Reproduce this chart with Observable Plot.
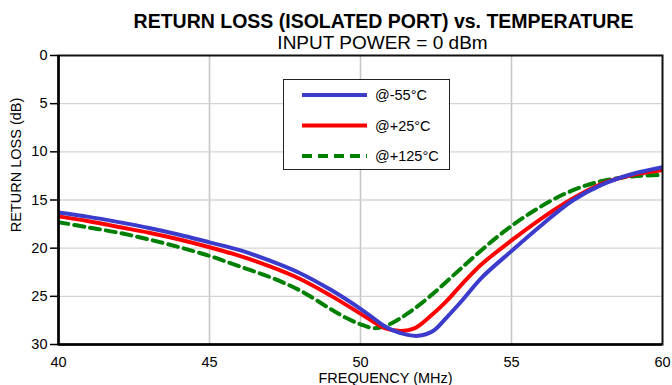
<!DOCTYPE html>
<html><head><meta charset="utf-8">
<script src="https://cdn.jsdelivr.net/npm/d3@7"></script>
<script src="https://cdn.jsdelivr.net/npm/@observablehq/plot@0.6"></script>
<style>
body{margin:0;background:#fff;font-family:"Liberation Sans",Arial,sans-serif;}
#wrap{position:relative;width:672px;height:385px;}
#legend{position:absolute;left:283px;top:79px;width:167px;height:91px;border:1px solid #222;background:#fff;box-sizing:border-box;}
</style></head>
<body><div id="wrap"><div id="chart"></div><div id="legend"></div></div>
<script>
const title = "RETURN LOSS (ISOLATED PORT) vs. TEMPERATURE";
const subtitle = "INPUT POWER = 0 dBm";
const xLabel = "FREQUENCY (MHz)";
const yLabel = "RETURN LOSS (dB)";
const xTicks = [40, 45, 50, 55, 60];
const yTicks = [0, 5, 10, 15, 20, 25, 30];
const seriesNames = ["@-55°C", "@+25°C", "@+125°C"];
const seriesColors = ["#3b3bcc", "#ff0000", "#008000"];

const freqM55 = [40, 41, 42, 43, 44, 45, 46, 47, 48, 49, 50, 50.4, 50.8, 51.3, 51.9, 52.4, 52.85, 53.4, 54, 55, 56, 57, 58, 59, 60];
const rlM55   = [16.3, 16.75, 17.3, 17.9, 18.6, 19.4, 20.2, 21.3, 22.6, 24.3, 26.3, 27.2, 28.1, 28.8, 29.1, 28.6, 27.2, 25.3, 23.1, 20.3, 17.6, 15.1, 13.4, 12.3, 11.6];
const freqP25 = [40, 41, 42, 43, 44, 45, 46, 47, 48, 49, 50, 50.4, 50.8, 51.36, 51.8, 52.3, 52.85, 53.4, 54, 55, 56, 57, 58, 59, 60];
const rlP25   = [16.7, 17.2, 17.8, 18.4, 19.1, 19.9, 20.8, 21.9, 23.2, 24.9, 26.8, 27.6, 28.3, 28.6, 28.3, 27.1, 25.5, 23.6, 21.7, 19.2, 16.9, 14.9, 13.3, 12.4, 11.9];
const freqP125 = [40, 41, 42, 43, 44, 45, 46, 47, 48, 49, 49.5, 50, 50.42, 50.8, 51.2, 51.6, 52.3, 53.4, 54.5, 55.6, 56.8, 57.9, 59, 60];
const rlP125   = [17.3, 17.85, 18.4, 19.1, 19.9, 20.8, 21.9, 23.0, 24.4, 26.3, 27.2, 27.9, 28.3, 28.1, 27.5, 26.7, 25.0, 21.9, 18.9, 16.4, 14.3, 13.1, 12.55, 12.4];

const toRows = (fs, vs) => fs.map((f, i) => ({f, v: vs[i]}));
const dM55 = toRows(freqM55, rlM55), dP25 = toRows(freqP25, rlP25), dP125 = toRows(freqP125, rlP125);
const font = "Liberation Sans, Arial, sans-serif";

const chart = Plot.plot({
  width: 672, height: 385,
  marginLeft: 58, marginRight: 10, marginTop: 55, marginBottom: 41,
  style: {fontFamily: font, fontSize: "14.5px", color: "#000", background: "#fff", overflow: "visible"},
  x: {domain: [40, 60]},
  y: {domain: [0, 30], reverse: true},
  marks: [
    Plot.gridX([45, 50, 55], {stroke: "#c6c6c6", strokeOpacity: 1, strokeWidth: 1.6}),
    Plot.gridY([5, 10, 15, 20, 25], {stroke: "#d4d4d4", strokeOpacity: 1, strokeWidth: 1.3}),
    Plot.line(dP125, {x: "f", y: "v", stroke: seriesColors[2], strokeWidth: 4, strokeDasharray: "10,6", curve: "catmull-rom", clip: true}),
    Plot.line(dP25, {x: "f", y: "v", stroke: seriesColors[1], strokeWidth: 4, curve: "catmull-rom", clip: true}),
    Plot.line(dM55, {x: "f", y: "v", stroke: seriesColors[0], strokeWidth: 4, curve: "catmull-rom", clip: true}),
    Plot.frame({stroke: "#111", strokeWidth: 2}),
    Plot.axisY(yTicks, {tickSize: 8, tickPadding: 3, label: null, fontSize: 14.5, strokeWidth: 1.5}),
    Plot.axisX(xTicks, {tickSize: 0, tickPadding: 12, label: null, fontSize: 14.5}),
    Plot.ruleX([40], {strokeWidth: 2.5, stroke: "#000"}),
    Plot.ruleY([30], {strokeWidth: 2.5, stroke: "#000"}),
    Plot.text([title], {frameAnchor: "top", lineAnchor: "bottom", dx: 23, dy: -28, fontSize: 19.5, fontWeight: "bold"}),
    Plot.text([subtitle], {frameAnchor: "top", lineAnchor: "bottom", dx: 22, dy: -7, fontSize: 19}),
    Plot.text([xLabel], {frameAnchor: "bottom", lineAnchor: "bottom", dx: 25, dy: 38, fontSize: 14.5}),
    Plot.text([yLabel], {frameAnchor: "left", textAnchor: "middle", lineAnchor: "middle", rotate: -90, dx: -42, dy: -35, fontSize: 14.5})
  ]
});
document.getElementById("chart").appendChild(chart);

// legend
const lg = d3.select("#legend").append("svg").attr("width", 165).attr("height", 89);
seriesNames.forEach((name, i) => {
  const y = 15 + i * 30.5;
  lg.append("line").attr("x1", 18).attr("x2", 83).attr("y1", y).attr("y2", y)
    .attr("stroke", seriesColors[i]).attr("stroke-width", 4)
    .attr("stroke-dasharray", i === 2 ? "10,6" : null);
  lg.append("text").attr("x", 91).attr("y", y + 5).text(name)
    .attr("font-family", font).attr("font-size", 14.5);
});
</script></body></html>
